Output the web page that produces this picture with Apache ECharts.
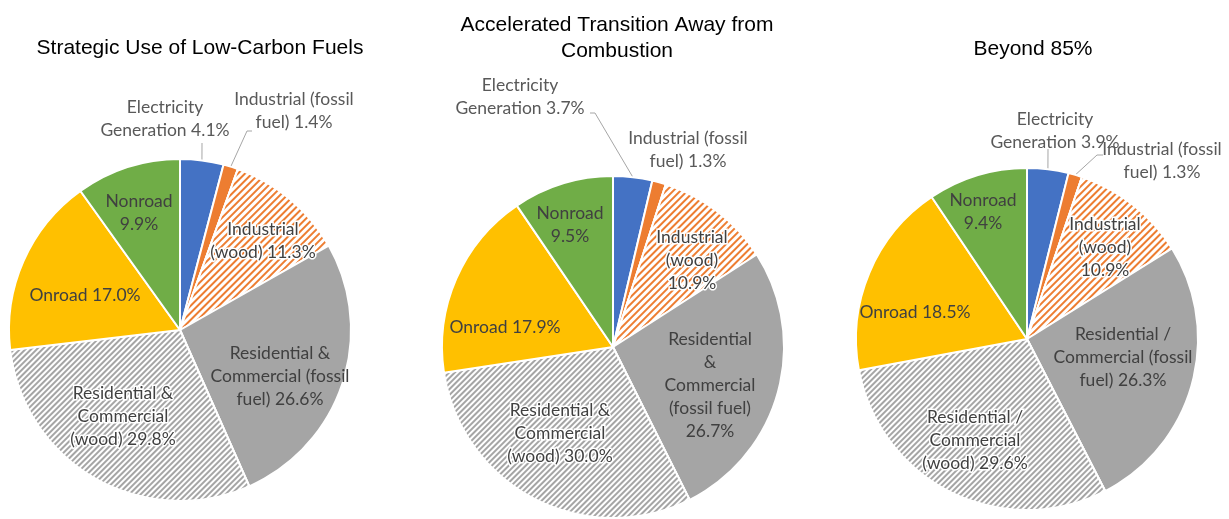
<!DOCTYPE html>
<html>
<head>
<meta charset="UTF-8">
<title>Emissions by sector</title>
<script src="https://cdn.jsdelivr.net/npm/echarts@6/dist/echarts.min.js"></script>
<style>
  html, body { margin: 0; padding: 0; background: #fff; }
  #chart { width: 1229px; height: 519px; }
</style>
</head>
<body>
<div id="chart"></div>
<script>
// scenario titles
var titles = ['Strategic Use of Low-Carbon Fuels', 'Accelerated Transition Away from\nCombustion', 'Beyond 85%'];

// sectors, clockwise from 12 o'clock
var sectors = ['Electricity Generation', 'Industrial (fossil fuel)', 'Industrial (wood)',
  'Residential & Commercial (fossil fuel)', 'Residential & Commercial (wood)', 'Onroad', 'Nonroad'];

// shares in percent
var lowCarbon = [4.1, 1.4, 11.3, 26.6, 29.8, 17.0, 9.9];
var accelerated = [3.7, 1.3, 10.9, 26.7, 30.0, 17.9, 9.5];
var beyond85 = [3.9, 1.3, 10.9, 26.3, 29.6, 18.5, 9.4];

// label text (line breaks as in the picture)
var labels1 = ['Electricity\nGeneration 4.1%', 'Industrial (fossil\nfuel) 1.4%', 'Industrial\n(wood) 11.3%',
  'Residential &\nCommercial (fossil\nfuel) 26.6%', 'Residential &\nCommercial\n(wood) 29.8%', 'Onroad 17.0%', 'Nonroad\n9.9%'];
var labels2 = ['Electricity\nGeneration 3.7%', 'Industrial (fossil\nfuel) 1.3%', 'Industrial\n(wood)\n10.9%',
  'Residential\n&\nCommercial\n(fossil fuel)\n26.7%', 'Residential &\nCommercial\n(wood) 30.0%', 'Onroad 17.9%', 'Nonroad\n9.5%'];
var labels3 = ['Electricity\nGeneration 3.9%', 'Industrial (fossil\nfuel) 1.3%', 'Industrial\n(wood)\n10.9%',
  'Residential /\nCommercial (fossil\nfuel) 26.3%', 'Residential /\nCommercial\n(wood) 29.6%', 'Onroad 18.5%', 'Nonroad\n9.4%'];

// layout: pie centres, label offsets and leader-line bends (relative to each centre)
var R = 171;
var centers = [[180, 330], [613, 347], [1027, 339]];
var labelOffsets = [
  [[-15, -211], [114, -219], [83, -89], [100, 46], [-57, 86], [-95, -35], [-41, -117]],
  [[-93, -250], [75, -197], [79, -87], [97, 38], [-53, 86], [-108, -20], [-43, -122]],
  [[28, -208], [135, -178], [78, -92], [96, 18], [-52, 101], [-112, -27], [-44, -127]]
];
var leaderBends = [
  [[[22, -187], [22, -187]], [[67, -199], [72, -199]]],
  [[[-18, -234], [-23, -234]], null],
  [[[21, -190], [21, -190]], [[70, -184], [76, -184]]]
];

var colors = ['#4472C4', '#ED7D31', '#ffffff', '#A5A5A5', '#ffffff', '#FFC000', '#70AD47'];

var hatchOrange = { symbol: 'rect', color: '#ED7D31', dashArrayX: [1, 0], dashArrayY: [2, 2.2], rotation: -Math.PI / 4 };
var hatchGray = { symbol: 'rect', color: '#A5A5A5', dashArrayX: [1, 0], dashArrayY: [1.3, 1.6], rotation: -Math.PI / 4 };

function buildData(values, texts, k) {
  return values.map(function (v, i) {
    var item = {
      name: sectors[i],
      value: v,
      itemStyle: { color: colors[i] },
      label: { formatter: texts[i] }
    };
    if (i == 2) item.itemStyle.decal = hatchOrange;
    if (i == 4) item.itemStyle.decal = hatchGray;
    if (i == 2 || i == 4) {
      item.label.textBorderColor = '#fff';
      item.label.textBorderWidth = 3;
    }
    if (i < 2) {
      item.label.position = 'outside';
      item.label.color = '#595959';
      item.label.width = 160;
      item.label.overflow = 'none';
      if (!leaderBends[k][i]) item.labelLine = { show: false };
    } else {
      item.labelLine = { show: false };
    }
    return item;
  });
}

// point on the rim at the middle of slice i
function rimPoint(values, i, c) {
  var total = 0, before = 0;
  values.forEach(function (v, j) { total += v; if (j < i) before += v; });
  var a = (before + values[i] / 2) / total * 2 * Math.PI;
  return [c[0] + R * Math.sin(a), c[1] - R * Math.cos(a)];
}

function pieSeries(values, texts, k) {
  var c = centers[k];
  return {
    type: 'pie',
    center: c,
    radius: R,
    startAngle: 90,
    clockwise: true,
    animation: false,
    itemStyle: { borderColor: '#fff', borderWidth: 2 },
    label: {
      position: 'inside',
      color: '#404040',
      fontFamily: 'Lato',
      fontSize: 17.5,
      lineHeight: 23,
      align: 'center'
    },
    labelLine: { show: true, length: 12, length2: 6, lineStyle: { color: '#A6A6A6', width: 1 } },
    labelLayout: function (params) {
      var i = params.dataIndex;
      var off = labelOffsets[k][i];
      var res = {
        x: c[0] + off[0],
        y: c[1] + off[1],
        align: 'center',
        verticalAlign: 'middle'
      };
      var bend = i < 2 ? leaderBends[k][i] : null;
      if (bend) {
        res.labelLinePoints = [
          rimPoint(values, i, c),
          [c[0] + bend[0][0], c[1] + bend[0][1]],
          [c[0] + bend[1][0], c[1] + bend[1][1]]
        ];
      }
      return res;
    },
    data: buildData(values, texts, k)
  };
}

var chart = echarts.init(document.getElementById('chart'));
chart.setOption({
  backgroundColor: '#fff',
  title: [
    { text: titles[0], left: 195, top: 30, textAlign: 'center' },
    { text: titles[1], left: 612, top: 7, textAlign: 'center' },
    { text: titles[2], left: 1028, top: 31, textAlign: 'center' }
  ].map(function (t) {
    t.textStyle = { fontFamily: 'Liberation Sans', fontSize: 21, fontWeight: 'normal', color: '#000', lineHeight: 26 };
    return t;
  }),
  series: [
    pieSeries(lowCarbon, labels1, 0),
    pieSeries(accelerated, labels2, 1),
    pieSeries(beyond85, labels3, 2)
  ]
});
</script>
</body>
</html>
